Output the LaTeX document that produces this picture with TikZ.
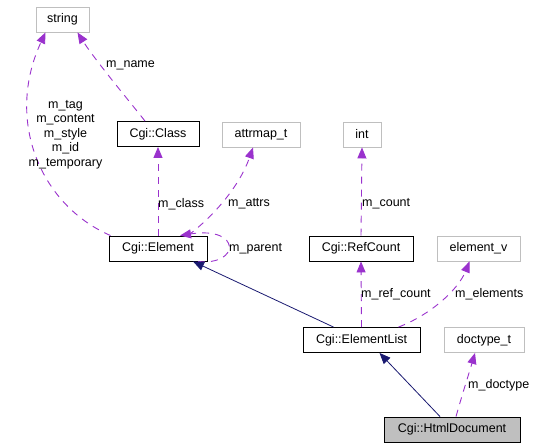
\documentclass[tikz,border=0pt]{standalone}
\usepackage{fontspec}
\setmainfont{Liberation Sans}
\usetikzlibrary{arrows.meta}
\definecolor{dep}{HTML}{9A32CD}
\definecolor{inh}{HTML}{191970}
\definecolor{gbox}{HTML}{BFBFBF}
\tikzset{
  box/.style={draw=black, line width=0.9pt, minimum height=25pt, inner sep=0pt, font=\fontsize{12.5}{14}\selectfont},
  extbox/.style={box, draw=gbox},
  depedge/.style={draw=dep, line width=0.9pt, dash pattern=on 7pt off 6pt, -{Triangle[length=11pt,width=9pt,fill=dep]}},
  inhedge/.style={draw=inh, line width=0.8pt, -{Triangle[length=11pt,width=9pt,fill=inh]}},
  lbl/.style={font=\fontsize{12.5}{14}\selectfont, inner sep=0pt, anchor=west},
}
\begin{document}
\begin{tikzpicture}[x=1pt,y=-1pt]
\useasboundingbox (0,0) rectangle (537,447);
% nodes
\node[extbox, minimum width=53pt] (string) at (62.5,19.5) {string};
\node[box, minimum width=82pt] (class) at (158,134) {Cgi::Class};
\node[extbox, minimum width=78pt] (attr) at (261,134.5) {attrmap\_t};
\node[extbox, minimum width=38pt] (int) at (362,134.5) {int};
\node[box, minimum width=98pt] (elem) at (158,248.5) {Cgi::Element};
\node[box, minimum width=104pt] (ref) at (361,248.5) {Cgi::RefCount};
\node[extbox, minimum width=83pt] (ev) at (478.5,248.5) {element\_v};
\node[box, minimum width=117pt] (elist) at (361.5,340) {Cgi::ElementList};
\node[extbox, minimum width=80pt] (doc) at (484,340) {doctype\_t};
\node[box, fill=gbox, minimum width=136pt] (html) at (452,429.5) {Cgi::HtmlDocument};
% dependency edges
\draw[depedge] ([xshift=2pt]elem.north west) .. controls (40,205) and (5,120) .. ([xshift=-17pt]string.south);
\draw[depedge] ([xshift=-13pt]class.north) .. controls (130,102) and (95,60) .. ([xshift=15pt]string.south);
\draw[depedge] (elem.north) -- (class.south);
\draw[depedge] ([xshift=30pt]elem.north) .. controls (215,215) and (240,185) .. ([xshift=-8pt]attr.south);
\draw[depedge] ([xshift=40pt]elem.south) .. controls (240,266) and (242,226) .. ([xshift=22pt]elem.north);
\draw[depedge] (ref.north) -- (int.south);
\draw[depedge] (elist.north) -- (ref.south);
\draw[depedge] ([xshift=37pt]elist.north) .. controls (430,315) and (458,290) .. ([xshift=-9pt]ev.south);
\draw[depedge] ([xshift=4pt]html.north) .. controls (462,395) and (470,370) .. ([xshift=-9pt]doc.south);
% inheritance edges
\draw[inhedge] ([xshift=-28pt]elist.north) -- ([xshift=35pt]elem.south);
\draw[inhedge] ([xshift=-12pt]html.north) -- ([xshift=18pt]elist.south);
% labels
\node[lbl, anchor=center, align=center, font=\fontsize{12.5}{14.5}\selectfont] (l1) at (65.5,134.5) {m\_tag\\m\_content\\m\_style\\m\_id\\m\_temporary};
\node[lbl] (l2) at (106,65) {m\_name};
\node[lbl] (l3) at (158,204) {m\_class};
\node[lbl] (l4) at (228,204) {m\_attrs};
\node[lbl] (l5) at (229,248.5) {m\_parent};
\node[lbl] (l6) at (362,204) {m\_count};
\node[lbl] (l7) at (361,294.5) {m\_ref\_count};
\node[lbl] (l8) at (455,294.5) {m\_elements};
\node[lbl] (l9) at (468,385) {m\_doctype};
\end{tikzpicture}
\end{document}
